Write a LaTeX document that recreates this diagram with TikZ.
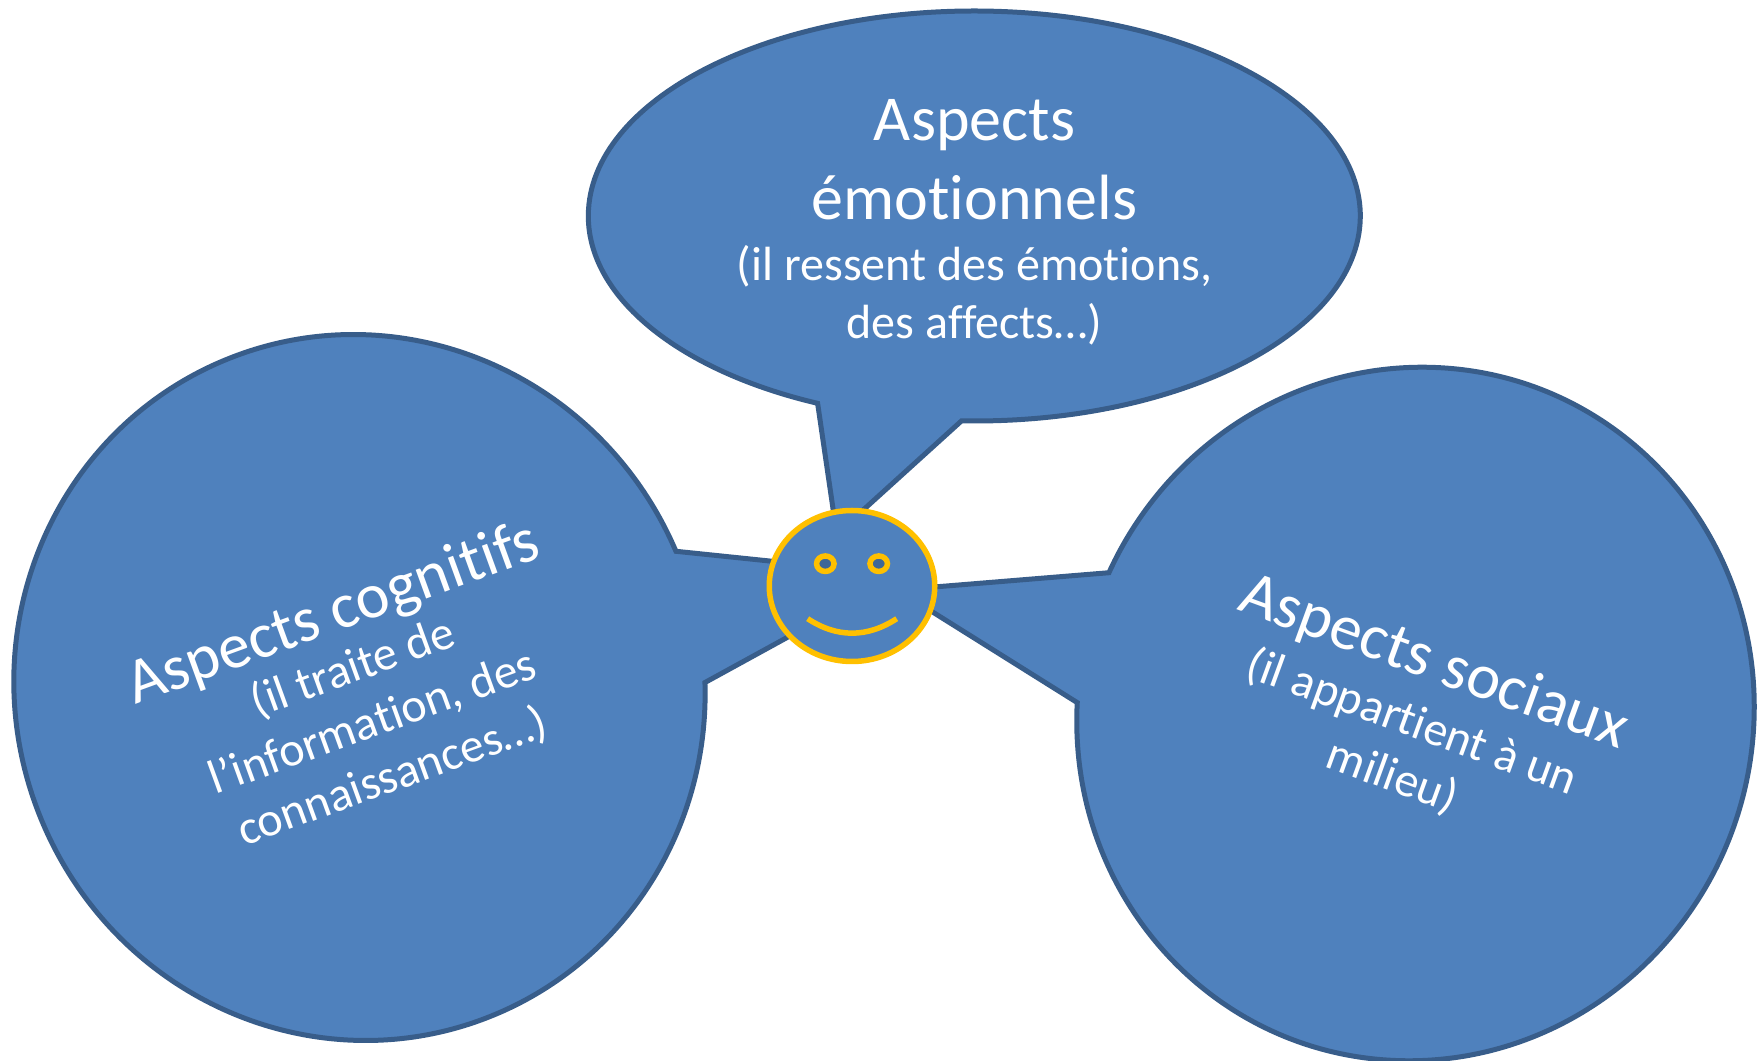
\documentclass[tikz,border=0pt]{standalone}
\usepackage{fontspec}
\setmainfont{Carlito}[Ligatures=NoCommon]
\usetikzlibrary{shapes.geometric}
\definecolor{bubblefill}{HTML}{4F81BD}
\definecolor{bubbleline}{HTML}{385D8A}
\definecolor{smile}{HTML}{FFC000}
\definecolor{eyefill}{HTML}{3F6797}
\newcommand{\bigt}{\fontsize{64}{58}\selectfont}
\newcommand{\smallt}{\fontsize{48}{58}\selectfont}
\tikzset{
  bubble/.style={fill=bubblefill,draw=bubbleline,line width=5pt,line join=miter},
  label text/.style={text=white,align=center,inner sep=0pt,font=\smallt},
  face line/.style={draw=smile,line width=5.5pt},
  eye/.style={ellipse,draw=smile,line width=5.5pt,fill=eyefill,minimum width=17.5pt,minimum height=15.5pt,inner sep=0pt,outer sep=0pt}
}
\begin{document}
\begin{tikzpicture}[x=1pt,y=1pt]
\useasboundingbox (0,0) rectangle (1760,1060);
\clip (0,0) rectangle (1760,1060);
% bubble centres
\coordinate (topC) at (974.3,844);
\coordinate (leftC) at (359.5,372.5);
\coordinate (rightC) at (1415.5,346);
% tail apexes (hidden behind the face)
\coordinate (topA) at (836.7,526);
\coordinate (leftA) at (901.6,485.3);
\coordinate (rightA) at (897.5,470);
% top bubble
\draw[bubble] (topA) -- ([shift={(268.1:386pt and 205pt)}]topC)
  arc[start angle=268.1,end angle=606.05,x radius=386pt,y radius=205pt] -- cycle;
% left bubble
\begin{scope}[shift={(leftC)},rotate=20]
\draw[bubble] (leftA) -- (3.2:344.5pt and 354pt)
  arc[start angle=3.2,end angle=341.3,x radius=344.5pt,y radius=354pt] -- cycle;
\end{scope}
% right bubble
\begin{scope}[shift={(rightC)},rotate=-20]
\draw[bubble] (rightA) -- (197.56:337.5pt and 348pt)
  arc[start angle=197.56,end angle=535.4,x radius=337.5pt,y radius=348pt] -- cycle;
\end{scope}
% face
\node[ellipse,draw=smile,line width=5.5pt,fill=bubblefill,minimum width=165.5pt,minimum height=151pt,inner sep=0pt,outer sep=0pt] (face) at (852,474) {};
\node[eye] (eyeL) at (825.3,496.3) {};
\node[eye] (eyeR) at (878.7,496.3) {};
\coordinate (smileL) at (807.7,441.3);
\coordinate (smileR) at (896.7,441.3);
\draw[face line] (smileL) .. controls (837,422) and (867,422) .. (smileR);
% texts
\node[label text] (topT) at (974.5,837.5) {\bigt Aspects\\[21pt]\bigt émotionnels\\[3pt]\smallt (il ressent des émotions,\\\smallt des affects…)};
\node[label text,rotate=20] (leftT) at (362,367) {\bigt Aspects cognitifs\\[-4pt]\smallt (il traite de\\\smallt l’information, des\\\smallt connaissances…)};
\node[label text,rotate=-20] (rightT) at (1414,343) {\bigt Aspects sociaux\\[2pt]\smallt (il appartient à un\\\smallt milieu)};
\end{tikzpicture}
\end{document}
